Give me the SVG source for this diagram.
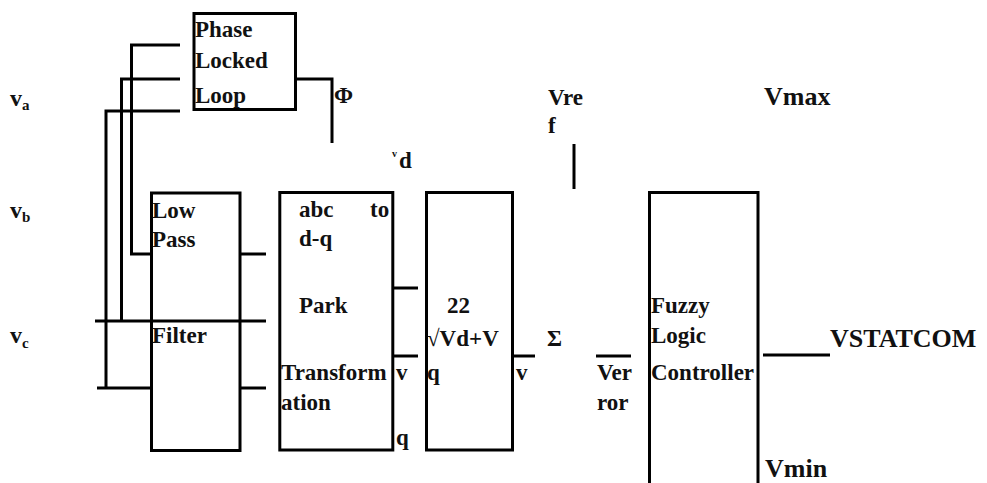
<svg xmlns="http://www.w3.org/2000/svg" width="987" height="483" viewBox="0 0 987 483">
<style>
text{font-family:"Liberation Serif","Times New Roman",serif;font-weight:bold;font-size:23px;fill:#111}
.box,.ln{fill:none;stroke:#000;stroke-width:3}
.big{font-size:26px}
.sm{font-size:24px}
</style>
<rect width="987" height="483" fill="#fff"/>
<g id="connectors">
<path class="ln" d="M180,45 H131.5 V254 H151"/>
<path class="ln" d="M180,79 H121.5 V321"/>
<path class="ln" d="M180,111 H106 V388"/>
<path class="ln" d="M95,321 H266"/>
<path class="ln" d="M97,388 H151"/>
<path class="ln" d="M240,254 H266"/>
<path class="ln" d="M240,388 H266"/>
<path class="ln" d="M296,79 H332 V143"/>
<path class="ln" d="M393,288 H418"/>
<path class="ln" d="M393,356 H418"/>
<path class="ln" d="M512,356 H535"/>
<path class="ln" d="M596,356 H631"/>
<path class="ln" d="M763,355 H830"/>
<path class="ln" d="M574,144 V189"/>
</g>
<g id="inputs">
<text class="sm" x="10" y="106">v<tspan font-size="15" dy="4">a</tspan></text>
<text class="sm" x="10" y="218">v<tspan font-size="15" dy="4">b</tspan></text>
<text class="sm" x="10" y="343">v<tspan font-size="15" dy="5">c</tspan></text>
</g>
<g id="pll">
<rect class="box" x="194" y="13.5" width="101.5" height="96"/>
<text x="195" y="37">Phase</text>
<text x="195" y="68">Locked</text>
<text x="195" y="103">Loop</text>
</g>
<g id="phi">
<text x="334" y="103">Φ</text>
</g>
<g id="vd">
<text x="392" y="168"><tspan font-size="10" dy="-11">v</tspan><tspan dx="2" dy="11">d</tspan></text>
</g>
<g id="lpf">
<rect class="box" x="151.5" y="193" width="88.5" height="257.5"/>
<text x="152" y="218">Low</text>
<text x="152" y="247">Pass</text>
<text x="152" y="343">Filter</text>
</g>
<g id="abc2dq">
<rect class="box" x="279.8" y="192.5" width="113" height="257.5"/>
<text x="299" y="217">abc</text>
<text x="370" y="217">to</text>
<text x="299" y="246">d-q</text>
<text x="299" y="313">Park</text>
<text x="281" y="380">Transform</text>
<text x="281" y="410">ation</text>
<text x="396" y="380">v</text>
<text x="396" y="445">q</text>
</g>
<g id="magnitude">
<rect class="box" x="426.5" y="192.5" width="86" height="257.5"/>
<text x="447" y="313">22</text>
<text x="427" y="346">√Vd+V</text>
<text x="427" y="380">q</text>
<text x="516" y="380">v</text>
</g>
<g id="sum">
<text x="547" y="346">Σ</text>
<text x="548" y="105">Vre</text>
<text x="548" y="133">f</text>
<text x="597" y="380">Ver</text>
<text x="597" y="410">ror</text>
</g>
<g id="flc">
<path class="box" d="M649.5,490 V192.5 H758 V490"/>
<text x="651" y="313">Fuzzy</text>
<text x="651" y="343">Logic</text>
<text x="651" y="380">Controller</text>
<text class="big" x="764" y="105">Vmax</text>
<text class="big" x="765" y="477">Vmin</text>
</g>
<g id="output">
<text class="big" x="830" y="347">VSTATCOM</text>
</g>
</svg>
